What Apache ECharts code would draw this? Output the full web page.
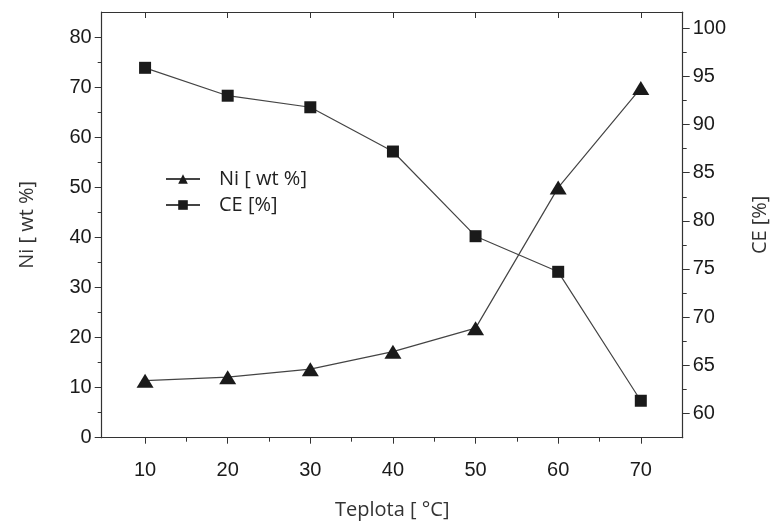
<!DOCTYPE html>
<html><head><meta charset="utf-8">
<script src="https://cdn.jsdelivr.net/npm/echarts@6/dist/echarts.min.js"></script>
<style>html,body{margin:0;padding:0;background:#fff}#c{width:770px;height:524px}</style>
</head><body><div id="c"></div>
<script>
const temps = [10, 20, 30, 40, 50, 60, 70];
const niValues = [11.4, 12.1, 13.7, 17.2, 21.9, 50, 69.9];
const ceValues = [95.9, 93.0, 91.8, 87.2, 78.4, 74.7, 61.3];
const xTicks = [10, 20, 30, 40, 50, 60, 70];
const xMinor = [15, 25, 35, 45, 55, 65];
const leftTicks = [0, 10, 20, 30, 40, 50, 60, 70, 80];
const leftMinor = [5, 15, 25, 35, 45, 55, 65, 75];
const rightTicks = [60, 65, 70, 75, 80, 85, 90, 95, 100];
const rightMinor = [62.5, 67.5, 72.5, 77.5, 82.5, 87.5, 92.5, 97.5];

const X_MIN = 4.75, X_MAX = 75.07;
const L_MIN = 0, L_MAX = 85.1;
const R_MIN = 57.46, R_MAX = 101.7;
const lineCol = '#333';
const labelFont = {fontFamily: 'Liberation Sans', fontSize: 20, color: '#1a1a1a'};
const nameFont = {fontFamily: 'Open Sans', fontSize: 20, color: '#333'};

function axisBase(extra) {
  return Object.assign({
    axisLine: {show: true, lineStyle: {color: lineCol, width: 1.2}},
    splitLine: {show: false}
  }, extra);
}

const chart = echarts.init(document.getElementById('c'));
chart.setOption({
  animation: false,
  grid: {left: 101.7, right: 87.3, top: 12, bottom: 86.3, outerBoundsMode: 'none', containLabel: false},
  legend: {
    orient: 'vertical', left: 160, top: 164, itemGap: 6,
    itemWidth: 34, itemHeight: 12,
    textStyle: {fontFamily: 'Open Sans', fontSize: 20, color: '#222', padding: [0,0,0,14]},
    data: ['Ni [ wt %]', 'CE [%]']
  },
  xAxis: [
    axisBase({type: 'value', min: X_MIN, max: X_MAX, position: 'bottom',
      name: 'Teplota [ °C]', nameLocation: 'middle', nameGap: 63, nameTextStyle: nameFont,
      axisTick: {show: true, length: 6, customValues: xTicks, lineStyle: {color: lineCol}},
      axisLabel: {customValues: xTicks, margin: 23, ...labelFont}}),
    axisBase({type: 'value', min: X_MIN, max: X_MAX, position: 'bottom',
      axisLine: {show: false},
      axisTick: {show: true, length: 4, customValues: xMinor, lineStyle: {color: lineCol}},
      axisLabel: {show: false}}),
    axisBase({type: 'value', min: X_MIN, max: X_MAX, position: 'top',
      axisTick: {show: true, inside: true, length: 6, customValues: xTicks, lineStyle: {color: lineCol}},
      axisLabel: {show: false}})
  ],
  yAxis: [
    axisBase({type: 'value', min: L_MIN, max: L_MAX, position: 'left',
      name: 'Ni [ wt %]', nameLocation: 'middle', nameGap: 64, nameRotate: 90, nameTextStyle: nameFont,
      axisTick: {show: true, length: 7, customValues: leftTicks, lineStyle: {color: lineCol}},
      axisLabel: {customValues: leftTicks, margin: 10, ...labelFont}}),
    axisBase({type: 'value', min: R_MIN, max: R_MAX, position: 'right',
      name: 'CE [%]', nameLocation: 'middle', nameGap: 68, nameRotate: 90, nameTextStyle: nameFont,
      axisTick: {show: true, length: 7, customValues: rightTicks, lineStyle: {color: lineCol}},
      axisLabel: {customValues: rightTicks, margin: 10, ...labelFont}}),
    axisBase({type: 'value', min: L_MIN, max: L_MAX, position: 'left',
      axisLine: {show: false},
      axisTick: {show: true, length: 4, customValues: leftMinor, lineStyle: {color: lineCol}},
      axisLabel: {show: false}}),
    axisBase({type: 'value', min: R_MIN, max: R_MAX, position: 'right',
      axisLine: {show: false},
      axisTick: {show: true, length: 4, customValues: rightMinor, lineStyle: {color: lineCol}},
      axisLabel: {show: false}})
  ],
  series: [
    {name: 'Ni [ wt %]', type: 'line', xAxisIndex: 0, yAxisIndex: 0,
      data: temps.map((t, i) => [t, niValues[i]]),
      symbol: 'triangle', symbolSize: [17, 14],
      itemStyle: {color: '#1a1a1a'}, lineStyle: {color: '#444', width: 1.2}},
    {name: 'CE [%]', type: 'line', xAxisIndex: 0, yAxisIndex: 1,
      data: temps.map((t, i) => [t, ceValues[i]]),
      symbol: 'rect', symbolSize: 12,
      itemStyle: {color: '#1a1a1a'}, lineStyle: {color: '#444', width: 1.2}}
  ]
});
</script></body></html>
